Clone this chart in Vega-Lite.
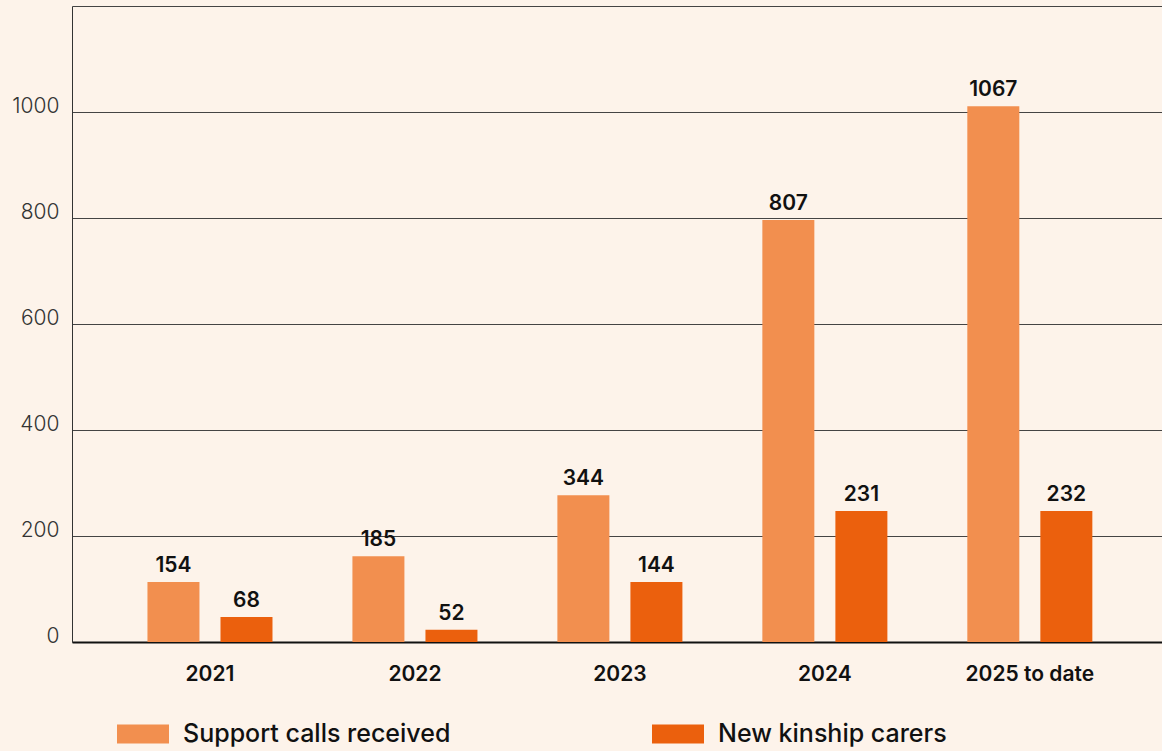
{
  "$schema": "https://vega.github.io/schema/vega-lite/v6.json",
  "width": 1090,
  "height": 636,
  "autosize": {"type": "none"},
  "padding": {"left": 72, "top": 6, "right": 0, "bottom": 109},
  "background": "#FDF3EA",
  "config": {"view": {"stroke": null}, "font": "Inter"},
  "data": {
    "values": [
      {"year": "2021", "series": "Support calls received", "value": 113, "label": "154"},
      {"year": "2021", "series": "New kinship carers", "value": 47, "label": "68"},
      {"year": "2022", "series": "Support calls received", "value": 162, "label": "185"},
      {"year": "2022", "series": "New kinship carers", "value": 23, "label": "52"},
      {"year": "2023", "series": "Support calls received", "value": 277, "label": "344"},
      {"year": "2023", "series": "New kinship carers", "value": 113, "label": "144"},
      {"year": "2024", "series": "Support calls received", "value": 796, "label": "807"},
      {"year": "2024", "series": "New kinship carers", "value": 247, "label": "231"},
      {"year": "2025 to date", "series": "Support calls received", "value": 1011, "label": "1067"},
      {"year": "2025 to date", "series": "New kinship carers", "value": 247, "label": "232"}
    ]
  },
  "layer": [
    {
      "mark": {"type": "bar"},
      "encoding": {
        "x": {
          "field": "year", "type": "nominal", "sort": null,
          "scale": {"paddingInner": 0.39, "paddingOuter": 0.354, "align": 0.52},
          "axis": {
            "title": null, "labelAngle": 0, "ticks": false, "tickSize": 0,
            "domain": true, "domainColor": "#111", "domainWidth": 2,
            "labelPadding": 38, "labelBaseline": "alphabetic",
            "labelFontSize": 21, "labelFontWeight": 600, "labelColor": "#111"
          }
        },
        "xOffset": {
          "field": "series", "type": "nominal",
          "sort": ["Support calls received", "New kinship carers"],
          "scale": {"paddingInner": 0.288}
        },
        "y": {
          "field": "value", "type": "quantitative",
          "scale": {"domain": [0, 1200]},
          "axis": {
            "title": null, "values": [0, 200, 400, 600, 800, 1000, 1200],
            "format": "d",
            "labelExpr": "datum.value == 1200 ? '' : datum.label",
            "grid": true, "gridColor": "#444", "gridWidth": 1,
            "domain": true, "domainColor": "#333", "domainWidth": 1,
            "ticks": false, "tickSize": 0, "labelPadding": 13,
            "labelBaseline": "alphabetic", "labelAlign": "right",
            "labelFontSize": 21, "labelFontWeight": 300, "labelColor": "#333"
          }
        },
        "color": {
          "field": "series", "type": "nominal",
          "scale": {
            "domain": ["Support calls received", "New kinship carers"],
            "range": ["#F28F4F", "#EB600D"]
          },
          "legend": {
            "title": null, "orient": "none", "legendX": 45, "legendY": 702,
            "direction": "horizontal", "padding": 0,
            "symbolType": "M-1,-0.365H1V0.365H-1Z", "symbolSize": 2704,
            "symbolStrokeWidth": 0, "symbolOpacity": 1,
            "labelFontSize": 25, "labelFontWeight": 500, "labelColor": "#111",
            "labelOffset": 14, "columnPadding": 201, "labelLimit": 400
          }
        }
      }
    },
    {
      "mark": {"type": "text", "dy": -10, "baseline": "alphabetic", "fontSize": 21, "fontWeight": 600, "color": "#111"},
      "encoding": {
        "x": {"field": "year", "type": "nominal", "sort": null},
        "xOffset": {"field": "series", "type": "nominal", "sort": ["Support calls received", "New kinship carers"]},
        "y": {"field": "value", "type": "quantitative"},
        "text": {"field": "label"}
      }
    }
  ]
}
